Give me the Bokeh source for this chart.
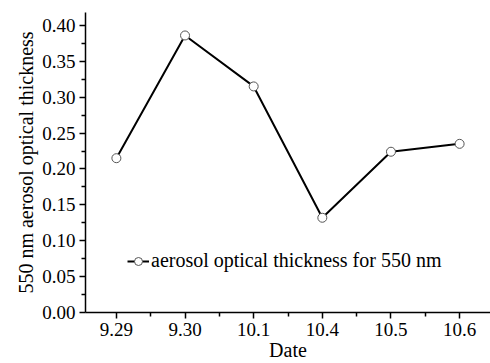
from bokeh.plotting import figure
from bokeh.models import (ColumnDataSource, Legend, LegendItem, FixedTicker,
                          Range1d, NumeralTickFormatter)
from bokeh.embed import file_html
from bokeh.resources import INLINE

# Daily 550 nm aerosol optical thickness
dates = ["9.29", "9.30", "10.1", "10.4", "10.5", "10.6"]
aot_550 = [0.215, 0.386, 0.315, 0.132, 0.224, 0.235]
y_ticks = [0.00, 0.05, 0.10, 0.15, 0.20, 0.25, 0.30, 0.35, 0.40]

idx = list(range(len(dates)))
src = ColumnDataSource(dict(x=idx, y=aot_550))

FONT = "Liberation Serif"

p = figure(width=490, height=363, output_backend="svg", toolbar_location=None,
           x_range=Range1d(-0.45, 5.45), y_range=Range1d(0, 0.418),
           min_border_left=85, min_border_right=0, min_border_top=12,
           min_border_bottom=50)
p.outline_line_color = None
p.grid.visible = False
p.background_fill_color = "white"

line = p.line("x", "y", source=src, line_color="black", line_width=2)
pts = p.scatter("x", "y", source=src, marker="circle", size=9,
                fill_color="white", line_color="#555555", line_width=1)

# x axis: one major tick per date, minor tick halfway between
p.xaxis.ticker = FixedTicker(ticks=idx,
                             minor_ticks=[i + 0.5 for i in range(-1, len(idx))])
p.xaxis.major_label_overrides = {i: d for i, d in enumerate(dates)}
p.xaxis.axis_label = "Date"

p.yaxis.ticker = FixedTicker(ticks=y_ticks,
                             minor_ticks=[t + 0.025 for t in y_ticks])
p.yaxis.formatter = NumeralTickFormatter(format="0.00")
p.yaxis.axis_label = "550 nm aerosol optical thickness"

for ax in (p.xaxis, p.yaxis):
    ax.axis_line_color = "black"
    ax.axis_line_width = 1.5
    ax.major_tick_line_color = "black"
    ax.minor_tick_line_color = "black"
    ax.major_tick_line_width = 1.5
    ax.minor_tick_line_width = 1.5
    ax.major_tick_in = 0
    ax.major_tick_out = 6
    ax.minor_tick_in = 0
    ax.minor_tick_out = 4
    ax.major_label_text_font = FONT
    ax.major_label_text_font_size = "19px"
    ax.major_label_text_color = "black"
    ax.axis_label_text_font = FONT
    ax.axis_label_text_font_size = "20px"
    ax.axis_label_text_font_style = "normal"
    ax.axis_label_text_color = "black"
p.xaxis.major_label_standoff = 4
p.xaxis.axis_label_standoff = 0
p.yaxis.major_label_standoff = 4
p.yaxis.axis_label_standoff = 2

legend = Legend(items=[LegendItem(label="aerosol optical thickness for 550 nm",
                                  renderers=[line, pts])],
                location=(42, 40), orientation="vertical",
                background_fill_alpha=0, border_line_color=None,
                glyph_width=22, glyph_height=20, label_standoff=2,
                padding=0, margin=0, spacing=0,
                label_text_font=FONT, label_text_font_size="20px",
                label_text_color="black")
p.add_layout(legend, "center")

open("out.html", "w").write(file_html(p, INLINE))
